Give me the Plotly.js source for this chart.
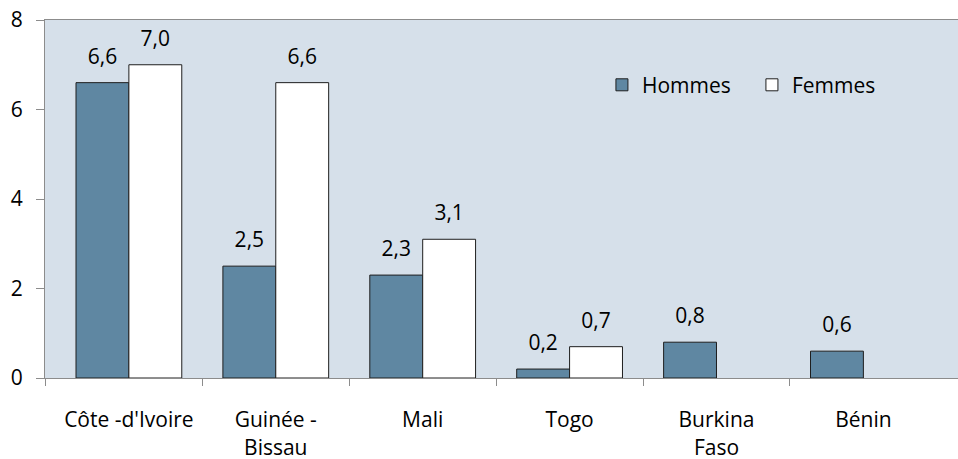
<!DOCTYPE html>
<html>
<head>
<meta charset="utf-8">
<script src="https://cdn.plot.ly/plotly-3.0.1.min.js"></script>
<style>html,body{margin:0;padding:0;background:#fff;}#chart{width:958px;height:459px;}</style>
</head>
<body>
<div id="chart"></div>
<script>
var categories = ["Côte -d'Ivoire", "Guinée -<br>Bissau", "Mali", "Togo", "Burkina<br>Faso", "Bénin"];
var hommes = [6.6, 2.5, 2.3, 0.2, 0.8, 0.6];
var femmes = [7.0, 6.6, 3.1, 0.7, null, null];
var yTicks = [0, 2, 4, 6, 8];

var FAM = "'Open Sans', 'Noto Sans', sans-serif";
var labelTpl = "<span style='font-size:21px'>%{y:.1f}</span><br> ";
var xRange = [-0.571, 5.644];
// category separators (between groups), plus the left edge of the plot
var sepTicks = [xRange[0]];
for (var i = 0; i < categories.length - 1; i++) sepTicks.push(i + 0.5);

var traces = [
  {type: "bar", name: "Hommes", x: categories, y: hommes,
   marker: {color: "#5f87a2", line: {color: "#1e1e1e", width: 1}},
   texttemplate: labelTpl, textposition: "outside", cliponaxis: false, constraintext: "none",
   textfont: {family: FAM, size: 10, color: "#000"}, hoverinfo: "none"},
  {type: "bar", name: "Femmes", x: categories, y: femmes,
   marker: {color: "#ffffff", line: {color: "#1e1e1e", width: 1}},
   texttemplate: labelTpl, textposition: "outside", cliponaxis: false, constraintext: "none",
   textfont: {family: FAM, size: 10, color: "#000"}, hoverinfo: "none"},
  {type: "scatter", x: [], y: [], xaxis: "x2", showlegend: false, hoverinfo: "none"}
];

var layout = {
  width: 958, height: 459,
  margin: {l: 45, r: 0, t: 20, b: 81, autoexpand: false},
  paper_bgcolor: "#ffffff",
  plot_bgcolor: "#d6e0ea",
  font: {family: FAM, size: 21, color: "#000"},
  separators: ", ",
  barmode: "group",
  bargap: 0.28,
  bargroupgap: 0,
  showlegend: true,
  legend: {orientation: "h", x: 0.61, xanchor: "left", y: 0.818, yanchor: "middle",
           bgcolor: "rgba(0,0,0,0)", font: {family: FAM, size: 21, color: "#000"},
           entrywidth: 105, entrywidthmode: "pixels", traceorder: "normal"},
  xaxis: {type: "category", range: xRange, showgrid: false, zeroline: false,
          showline: true, mirror: true, linecolor: "#8c8c8c", linewidth: 1, tickangle: 0, automargin: false,
          ticks: "", ticklabelstandoff: 23,
          tickfont: {family: FAM, size: 21, color: "#000"}, fixedrange: true},
  xaxis2: {overlaying: "x", anchor: "y", side: "bottom", range: xRange, tickmode: "array",
           tickvals: sepTicks, showticklabels: false, ticks: "outside", ticklen: 7,
           tickcolor: "#8c8c8c", showgrid: false, zeroline: false, showline: false, fixedrange: true},
  yaxis: {range: [0, 8], tickvals: yTicks, ticktext: yTicks.map(String), showgrid: false,
          zeroline: false, showline: true, linecolor: "#8c8c8c", linewidth: 1, automargin: false,
          ticks: "outside", ticklen: 8, tickcolor: "#8c8c8c", ticklabelstandoff: 9,
          tickfont: {family: FAM, size: 21, color: "#000"}, fixedrange: true}
};

Plotly.newPlot("chart", traces, layout, {displayModeBar: false, staticPlot: true});
</script>
</body>
</html>
